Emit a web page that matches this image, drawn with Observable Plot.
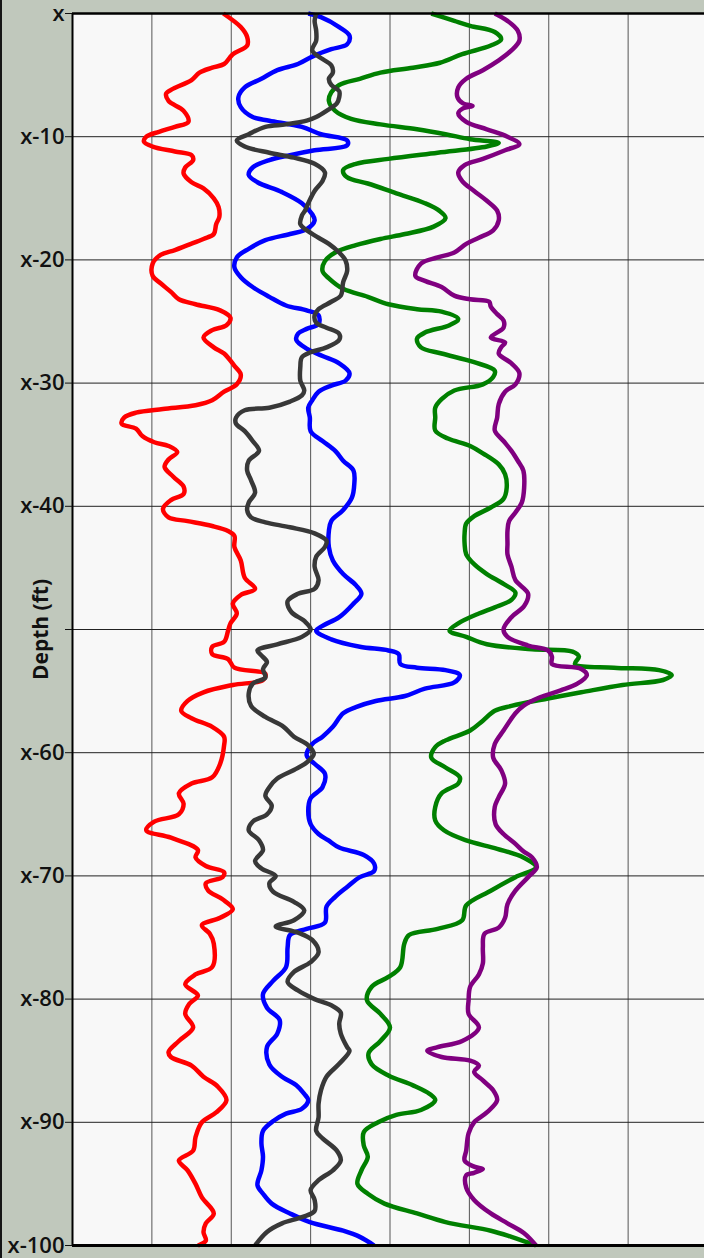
<!DOCTYPE html>
<html>
<head>
<meta charset="utf-8">
<script src="https://cdn.jsdelivr.net/npm/d3@7"></script>
<script src="https://cdn.jsdelivr.net/npm/@observablehq/plot@0.6"></script>
<style>
  html, body { margin: 0; padding: 0; background: #c0c8bc; overflow: hidden; }
  #wrap { position: relative; width: 704px; height: 1258px; }
  #edge { position: absolute; left: 0; top: 0; width: 2px; height: 1258px; background: #151515; }
  #chart svg { display: block; }
</style>
</head>
<body>
<div id="wrap"><div id="chart"></div><div id="edge"></div></div>
<script>
// Depth ticks (ft) and their labels
const depthTicks = [0, 10, 20, 30, 40, 50, 60, 70, 80, 90, 100];
const depthLabels = ["x", "x-10", "x-20", "x-30", "x-40", "", "x-60", "x-70", "x-80", "x-90", "x-100"];
// Vertical grid positions (track units)
const trackGrid = [1, 2, 3, 4, 5, 6, 7];

// Each series: [depth, value]
const redLog = [[0,1.90],[1.1,2.12],[1.9,2.20],[2.6,2.20],[3.3,2.02],[4.1,1.91],[4.4,1.76],[4.8,1.60],[5.4,1.50],[6.1,1.27],[6.5,1.18],[7.1,1.21],[7.9,1.40],[8.8,1.46],[9.2,1.29],[9.6,1.09],[10.0,0.93],[10.4,0.90],[10.8,1.01],[11.2,1.29],[11.5,1.50],[11.9,1.52],[12.5,1.42],[13.0,1.40],[13.7,1.50],[14.2,1.65],[15.0,1.78],[15.7,1.84],[16.5,1.85],[17.1,1.81],[17.9,1.78],[18.3,1.65],[18.8,1.45],[19.2,1.29],[19.6,1.11],[20.3,1.01],[21.3,1.01],[21.9,1.11],[22.6,1.24],[23.2,1.34],[23.6,1.55],[24.1,1.86],[24.7,1.99],[25.3,1.94],[25.7,1.76],[26.3,1.65],[27.1,1.78],[27.6,1.91],[28.6,2.04],[29.3,2.12],[30.1,2.07],[30.7,1.91],[31.4,1.76],[31.8,1.55],[32.1,1.14],[32.4,0.80],[32.8,0.65],[33.3,0.62],[33.7,0.80],[34.3,0.88],[34.8,1.03],[35.1,1.21],[35.6,1.32],[36.2,1.21],[36.8,1.16],[37.6,1.27],[38.4,1.40],[39.0,1.40],[39.5,1.24],[40.2,1.14],[40.9,1.21],[41.2,1.45],[41.6,1.76],[42.0,1.96],[42.4,2.04],[43.3,2.04],[44.4,2.12],[45.8,2.17],[46.7,2.30],[47.2,2.12],[47.9,2.02],[48.7,2.07],[49.5,1.99],[50.1,1.96],[51.0,1.91],[51.4,1.76],[52.0,1.76],[52.4,1.96],[53.1,2.04],[53.6,2.43],[54.1,2.40],[54.5,2.02],[55.1,1.65],[55.8,1.45],[56.6,1.37],[57.2,1.50],[57.9,1.76],[58.7,1.91],[59.4,1.91],[60.9,1.86],[62.0,1.76],[62.5,1.50],[63.3,1.34],[64.15,1.40],[65.0,1.34],[65.6,1.03],[66.3,0.93],[66.9,1.24],[67.9,1.58],[68.5,1.55],[69.2,1.68],[69.7,1.91],[70.1,1.89],[70.6,1.68],[71.2,1.71],[71.9,1.89],[72.7,2.02],[73.4,1.86],[74.0,1.63],[74.7,1.73],[75.5,1.78],[77.4,1.76],[78.0,1.55],[78.8,1.42],[79.7,1.58],[80.4,1.47],[81.2,1.42],[82.3,1.52],[83.4,1.34],[84.3,1.21],[84.7,1.24],[85.4,1.50],[86.3,1.65],[87.1,1.83],[88.2,1.94],[89.2,1.81],[90.0,1.63],[91.2,1.55],[92.3,1.52],[93.1,1.34],[93.9,1.45],[95.0,1.55],[96.1,1.63],[97.4,1.78],[98.2,1.68],[98.9,1.65],[99.6,1.68],[100,1.58]];

const blueLog = [[0,2.97],[0.3,3.13],[1.1,3.36],[1.8,3.49],[2.5,3.46],[2.9,3.26],[3.5,3.02],[4.1,2.84],[4.6,2.58],[5.3,2.38],[6.0,2.17],[6.8,2.09],[7.6,2.12],[8.4,2.27],[8.7,2.48],[9.2,2.89],[9.8,3.13],[10.3,3.46],[10.7,3.46],[11.1,3.05],[11.5,2.74],[11.9,2.48],[12.5,2.27],[13.1,2.22],[13.7,2.33],[14.5,2.64],[15.4,2.89],[16.3,3.02],[16.8,3.05],[17.5,2.95],[17.9,2.74],[18.4,2.43],[19.1,2.22],[19.8,2.07],[20.6,2.04],[21.4,2.12],[22.2,2.27],[23.0,2.48],[23.7,2.69],[24.1,2.95],[24.5,3.10],[25.2,3.10],[25.6,2.95],[26.0,2.84],[26.5,2.82],[27.2,2.95],[27.8,3.15],[28.4,3.36],[29.2,3.49],[29.8,3.44],[30.2,3.26],[30.7,3.10],[31.4,3.02],[32.0,2.97],[32.8,2.99],[33.9,3.0],[34.7,3.15],[35.5,3.31],[36.3,3.41],[37.1,3.54],[38.2,3.55],[39.3,3.52],[40.3,3.41],[41.2,3.26],[42.0,3.23],[43.3,3.23],[44.4,3.28],[45.5,3.41],[46.4,3.57],[47.1,3.64],[47.9,3.54],[49.0,3.36],[49.7,3.15],[50.1,3.07],[50.8,3.26],[51.4,3.62],[51.7,3.98],[52.0,4.11],[52.8,4.13],[53.1,4.34],[53.3,4.70],[53.7,4.88],[54.3,4.81],[54.8,4.44],[55.4,4.19],[55.8,3.82],[56.3,3.57],[56.8,3.41],[57.9,3.28],[58.7,3.15],[59.3,3.02],[60.2,2.95],[60.9,3.05],[61.7,3.18],[62.8,3.15],[63.7,3.0],[64.7,2.97],[65.8,3.0],[66.6,3.10],[67.1,3.22],[67.7,3.36],[68.3,3.67],[69.0,3.80],[69.6,3.80],[70.1,3.62],[70.9,3.46],[71.7,3.31],[72.5,3.20],[73.8,3.18],[74.3,2.95],[74.8,2.74],[75.8,2.71],[77.4,2.69],[78.5,2.53],[79.6,2.40],[80.7,2.45],[81.7,2.61],[82.8,2.58],[83.9,2.45],[85.3,2.48],[86.3,2.64],[87.0,2.82],[87.7,2.92],[88.2,2.97],[88.9,2.89],[89.3,2.69],[89.9,2.53],[90.7,2.40],[91.7,2.38],[92.8,2.40],[93.9,2.38],[95.1,2.33],[95.8,2.40],[96.6,2.51],[97.4,2.74],[98.1,2.99],[98.8,3.41],[99.3,3.62],[100,3.80]];

const grayLog = [[0,3.07],[0.6,3.05],[1.4,3.07],[2.2,3.07],[3.0,3.02],[3.7,3.15],[4.2,3.26],[4.8,3.28],[5.3,3.23],[5.8,3.26],[6.3,3.36],[6.8,3.36],[7.3,3.33],[7.9,3.20],[8.4,3.07],[8.7,2.95],[9.0,2.69],[9.2,2.43],[9.8,2.22],[10.3,2.07],[10.8,2.17],[11.3,2.48],[11.7,2.79],[12.2,3.05],[12.9,3.18],[13.6,3.15],[14.4,3.05],[15.4,2.97],[16.0,2.93],[16.4,2.89],[17.1,2.87],[17.6,2.95],[18.2,3.10],[18.7,3.23],[19.4,3.36],[20.05,3.44],[20.9,3.46],[21.8,3.41],[22.9,3.38],[23.4,3.26],[24.0,3.10],[24.5,3.05],[25.1,3.07],[25.5,3.20],[26.0,3.36],[26.5,3.36],[27.1,3.20],[27.5,3.0],[27.9,2.89],[28.7,2.87],[29.8,2.87],[30.6,2.92],[31.0,2.89],[31.5,2.74],[32.0,2.48],[32.2,2.17],[32.8,2.06],[33.3,2.06],[33.9,2.17],[34.7,2.27],[35.5,2.35],[36.3,2.22],[37.1,2.20],[37.9,2.25],[38.9,2.30],[39.7,2.22],[40.3,2.20],[40.9,2.25],[41.3,2.43],[41.7,2.74],[42.2,3.05],[42.8,3.20],[43.3,3.18],[44.1,3.07],[44.9,3.05],[46.0,3.10],[46.7,3.05],[47.1,2.84],[47.7,2.71],[48.6,2.76],[49.3,2.92],[50.0,3.0],[50.6,2.89],[51.2,2.58],[51.7,2.33],[52.1,2.38],[52.65,2.45],[53.2,2.40],[53.9,2.43],[54.4,2.27],[55.2,2.22],[56.2,2.25],[57.1,2.43],[57.9,2.66],[58.7,2.79],[59.4,2.97],[60.1,3.04],[60.8,2.95],[61.4,2.79],[62.1,2.58],[62.8,2.48],[63.5,2.43],[64.3,2.51],[65.0,2.45],[65.6,2.27],[66.3,2.22],[67.1,2.35],[67.9,2.40],[68.8,2.30],[69.4,2.38],[70.0,2.56],[70.6,2.48],[71.3,2.53],[72.1,2.79],[72.8,2.92],[73.6,2.79],[74.1,2.56],[74.6,2.84],[75.2,3.02],[76.2,3.10],[77.0,3.0],[77.8,2.79],[78.6,2.71],[79.3,2.84],[80.0,3.05],[80.5,3.26],[81.1,3.38],[82.0,3.36],[82.8,3.38],[83.9,3.46],[84.2,3.49],[85.25,3.36],[86.3,3.20],[87.4,3.13],[88.5,3.10],[89.6,3.10],[90.7,3.07],[91.3,3.15],[92.3,3.33],[93.1,3.38],[93.9,3.28],[94.7,3.10],[95.5,3.0],[96.3,3.05],[97.2,3.05],[97.7,2.89],[98.2,2.64],[98.9,2.45],[100,2.30]];

const greenLog = [[0,4.52],[0.6,4.81],[1.0,5.01],[1.5,5.32],[2.1,5.40],[2.6,5.27],[3.3,4.91],[4.0,4.63],[4.4,4.29],[4.8,3.88],[5.3,3.62],[5.8,3.36],[6.4,3.26],[7.1,3.23],[7.9,3.31],[8.55,3.51],[9.0,3.88],[9.4,4.34],[9.8,4.70],[10.2,5.01],[10.5,5.37],[10.8,5.22],[11.3,4.60],[11.8,3.98],[12.2,3.57],[12.7,3.41],[13.3,3.46],[13.8,3.72],[14.6,4.08],[15.4,4.44],[16.0,4.62],[16.6,4.70],[17.3,4.55],[17.9,4.19],[18.3,3.88],[18.8,3.57],[19.4,3.31],[20.1,3.18],[20.9,3.15],[21.5,3.23],[22.35,3.41],[23.0,3.72],[23.6,3.98],[24.0,4.34],[24.2,4.65],[24.8,4.86],[25.3,4.75],[25.9,4.44],[26.4,4.34],[27.1,4.39],[27.6,4.65],[28.3,5.06],[29.0,5.32],[29.5,5.30],[30.1,5.17],[30.6,4.81],[31.3,4.65],[32.0,4.57],[32.8,4.57],[33.85,4.57],[34.5,4.73],[35.1,5.01],[35.7,5.17],[36.6,5.37],[37.4,5.45],[38.5,5.47],[39.4,5.43],[40.1,5.27],[40.8,5.06],[41.4,4.96],[42.2,4.94],[43.05,4.94],[43.9,4.96],[44.7,5.06],[45.5,5.22],[46.3,5.43],[47.0,5.58],[47.6,5.53],[48.2,5.32],[48.7,5.12],[49.5,4.86],[50.1,4.75],[50.6,4.96],[51.2,5.22],[51.6,5.79],[51.8,6.30],[52.2,6.38],[52.8,6.33],[53.1,6.82],[53.3,7.39],[53.7,7.55],[54.1,7.44],[54.5,6.93],[55.1,6.41],[55.6,5.99],[56.2,5.53],[56.6,5.32],[57.4,5.17],[58.2,5.01],[59.0,4.70],[59.55,4.57],[60.4,4.52],[61.2,4.70],[62.0,4.88],[62.5,4.86],[63.3,4.65],[64.4,4.57],[65.5,4.57],[66.3,4.68],[67.1,4.95],[67.8,5.35],[68.5,5.68],[69.3,5.84],[70.1,5.58],[71.2,5.27],[72.4,4.96],[73.6,4.91],[74.3,4.60],[74.8,4.24],[75.5,4.18],[77.4,4.13],[78.2,3.98],[79.0,3.77],[80.1,3.71],[81.2,3.88],[82.3,4.00],[83.4,3.88],[84.4,3.73],[85.3,3.77],[86.2,3.98],[87.0,4.29],[87.7,4.50],[88.2,4.57],[89.0,4.39],[89.4,4.08],[90.0,3.85],[90.8,3.67],[91.9,3.67],[92.8,3.72],[93.9,3.64],[95.0,3.59],[95.8,3.72],[96.6,3.93],[97.4,4.34],[98.1,4.70],[98.8,5.27],[99.3,5.53],[100,5.84]];

const purpleLog = [[0,5.32],[0.6,5.48],[1.4,5.61],[2.2,5.63],[3.0,5.53],[3.8,5.37],[4.6,5.17],[5.3,4.96],[6.0,4.86],[6.8,4.85],[7.3,4.92],[7.5,5.04],[7.7,4.92],[8.1,4.86],[8.8,4.96],[9.4,5.22],[10.0,5.48],[10.6,5.63],[11.1,5.45],[11.8,5.17],[12.3,4.94],[12.9,4.86],[13.6,4.91],[14.4,5.06],[15.2,5.22],[16.0,5.35],[16.8,5.37],[17.6,5.30],[18.2,5.12],[18.7,4.96],[19.4,4.81],[19.8,4.60],[20.3,4.39],[21.3,4.32],[21.7,4.44],[22.2,4.65],[22.9,4.81],[23.2,5.01],[23.4,5.25],[23.8,5.27],[24.4,5.35],[24.9,5.43],[25.5,5.43],[26.3,5.27],[26.7,5.45],[27.1,5.40],[27.6,5.37],[28.4,5.53],[29.2,5.63],[30.1,5.58],[30.7,5.45],[31.7,5.37],[32.8,5.35],[33.85,5.32],[34.7,5.43],[35.5,5.53],[36.3,5.61],[37.1,5.68],[38.5,5.69],[39.7,5.66],[40.5,5.58],[41.2,5.50],[42.0,5.48],[43.05,5.48],[43.9,5.48],[44.9,5.53],[46.0,5.58],[47.1,5.74],[48.1,5.69],[49.0,5.53],[50.0,5.43],[50.6,5.48],[51.3,5.74],[51.7,5.99],[52.2,6.04],[52.8,6.04],[53.2,6.41],[53.7,6.48],[54.4,6.36],[54.95,6.15],[55.5,5.89],[56.2,5.68],[56.8,5.58],[58.2,5.43],[59.3,5.32],[60.4,5.30],[61.4,5.40],[62.5,5.45],[63.6,5.37],[64.4,5.32],[65.8,5.33],[66.6,5.43],[67.4,5.58],[68.0,5.68],[68.5,5.79],[69.3,5.85],[70.1,5.74],[71.2,5.58],[72.3,5.48],[73.4,5.45],[74.2,5.37],[74.7,5.19],[75.8,5.17],[77.1,5.17],[78.0,5.12],[79.0,5.01],[80.1,4.99],[81.2,4.99],[82.3,5.12],[83.4,4.91],[83.9,4.60],[84.2,4.47],[84.7,4.65],[85.0,5.01],[85.4,5.12],[85.9,5.06],[86.6,5.17],[87.4,5.30],[88.2,5.35],[89.2,5.22],[90.0,5.06],[90.9,4.99],[92.3,4.96],[93.1,4.94],[93.6,5.06],[93.8,5.17],[94.1,5.06],[94.3,4.96],[95.3,4.96],[96.3,5.06],[97.4,5.27],[98.2,5.48],[99.0,5.69],[100,5.84]];

const seriesColors = { red: "#ff0000", blue: "#0000ff", green: "#008000", purple: "#800080", gray: "#383838" };

function logLine(data, color) {
  return Plot.line(data, {
    x: d => d[1], y: d => d[0],
    stroke: color, strokeWidth: 4.5, curve: "catmull-rom",
    strokeLinejoin: "round", strokeLinecap: "butt"
  });
}

const chart = Plot.plot({
  width: 704,
  height: 1258,
  marginLeft: 72, marginRight: 0, marginTop: 13, marginBottom: 13,
  style: { background: "transparent", color: "#111", fontFamily: "'Open Sans', sans-serif" },
  x: { domain: [0, 8], range: [72, 707], axis: null },
  y: { domain: [0, 100], range: [13, 1245], axis: null },
  marks: [
    Plot.frame({ fill: "#f8f8f8", stroke: null }),
    Plot.ruleX(trackGrid, { stroke: "#555", strokeWidth: 1 }),
    Plot.ruleY(depthTicks.slice(1, -1), { stroke: "#222", strokeWidth: 1 }),
    logLine(redLog, seriesColors.red),
    logLine(blueLog, seriesColors.blue),
    logLine(greenLog, seriesColors.green),
    logLine(purpleLog, seriesColors.purple),
    logLine(grayLog, seriesColors.gray),
    Plot.ruleY([0], { stroke: "#000", strokeWidth: 2.5 }),
    Plot.ruleY([100], { stroke: "#000", strokeWidth: 3 }),
    Plot.ruleX([0], { stroke: "#000", strokeWidth: 2 }),
    Plot.axisY(depthTicks, {
      anchor: "left",
      tickSize: 7, tickPadding: 1, fontSize: 22, fontWeight: 600,
      tickFormat: d => depthLabels[depthTicks.indexOf(d)],
      label: null
    }),
    Plot.text(["Depth (ft)"], {
      frameAnchor: "left", dx: -31, rotate: -90, textAnchor: "middle",
      fontSize: 21, fontWeight: "bold", fill: "#111"
    })
  ]
});
document.getElementById("chart").appendChild(chart);
</script>
</body>
</html>
